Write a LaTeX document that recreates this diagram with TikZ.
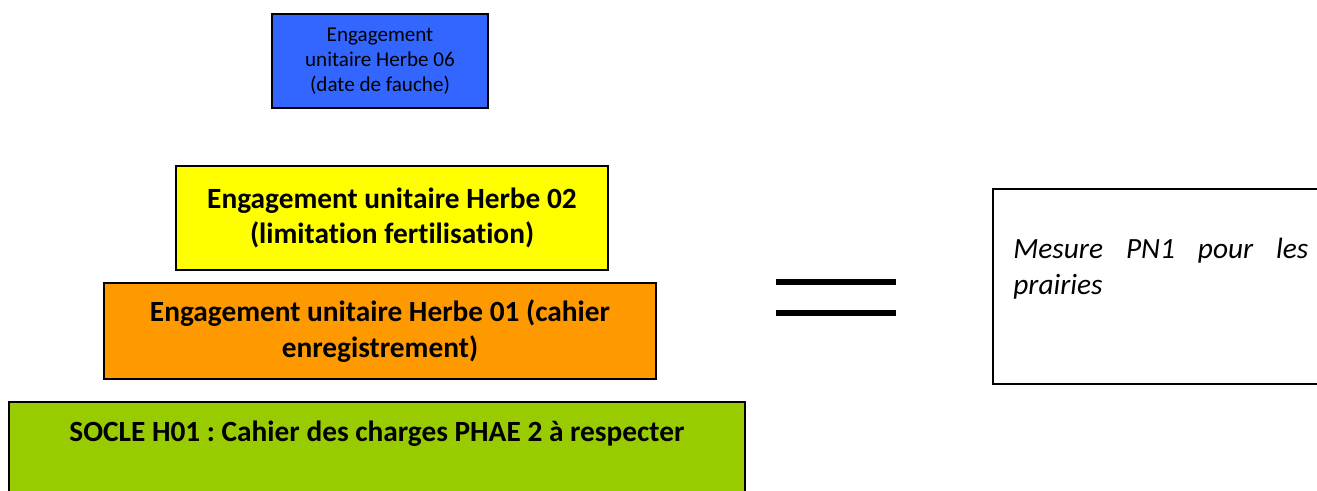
\documentclass[tikz,border=0pt]{standalone}
\usepackage{fontspec}
\setmainfont[RawFeature=-liga]{Carlito}
\usepackage{xcolor}
\usetikzlibrary{positioning}
\definecolor{herbeblue}{RGB}{51, 102, 255}
\definecolor{herbeyellow}{RGB}{255, 255, 0}
\definecolor{herbeorange}{RGB}{255, 153, 0}
\definecolor{herbegreen}{RGB}{153, 204, 0}
\frenchspacing

\begin{document}
\begin{tikzpicture}[
    x=0.02cm,
    y=-0.02cm,
    % -------------------------------------------------
    % Node styles
    % -------------------------------------------------
    layer/.style={
        rectangle,
        draw=black,
        line width=1pt,
        align=center,
        inner sep=0pt
    },
    smalltext/.style={
        font=\fontsize{12}{14.2}\selectfont
    },
    boldtext/.style={
        font=\fontsize{16.7}{20.4}\selectfont\bfseries
    },
    pntext/.style={
        text width=5.9cm,
        align=justify,
        inner sep=0pt,
        font=\fontsize{16.7}{21}\selectfont\itshape
    },
    eqbar/.style={
        rectangle,
        fill=black,
        inner sep=0pt,
        minimum width=2.4cm,
        minimum height=0.12cm
    }
]

\clip (0,0) rectangle (1317,490);

% =====================================================
% Stacked engagements
% =====================================================

\node[layer, smalltext, fill=herbeblue,
      minimum width=4.32cm, minimum height=1.88cm] (herbe06) at (380,61)
    {Engagement\\unitaire Herbe 06\\(date de fauche)};

\node[layer, boldtext, fill=herbeyellow,
      minimum width=8.64cm, minimum height=2.08cm] (herbe02) at (392,218)
    {Engagement unitaire Herbe 02\\(limitation fertilisation)};

\node[layer, boldtext, fill=herbeorange,
      minimum width=11.04cm, minimum height=1.92cm] (herbe01) at (380,331)
    {Engagement unitaire Herbe 01 (cahier\\enregistrement)};

% =====================================================
% Socle
% =====================================================

\node[layer, fill=herbegreen, anchor=north,
      minimum width=14.72cm, minimum height=2.6cm] (socle) at (377,401) {};

\node[boldtext, anchor=base] (sockletxt) at (377,441)
    {SOCLE H01 : Cahier des charges PHAE 2 à respecter};

% =====================================================
% Equals sign
% =====================================================

\node[eqbar] (eqtop) at (836,282) {};
\node[eqbar] (eqbot) at (836,313) {};

% =====================================================
% Resulting measure
% =====================================================

\node[layer, fill=white, anchor=north west,
      minimum width=7cm, minimum height=3.9cm] (pn1) at (992,188) {};

\node[pntext, anchor=base west] (pn1txt) at (1013,258)
    {Mesure PN1 pour les prairies};

\end{tikzpicture}
\end{document}
